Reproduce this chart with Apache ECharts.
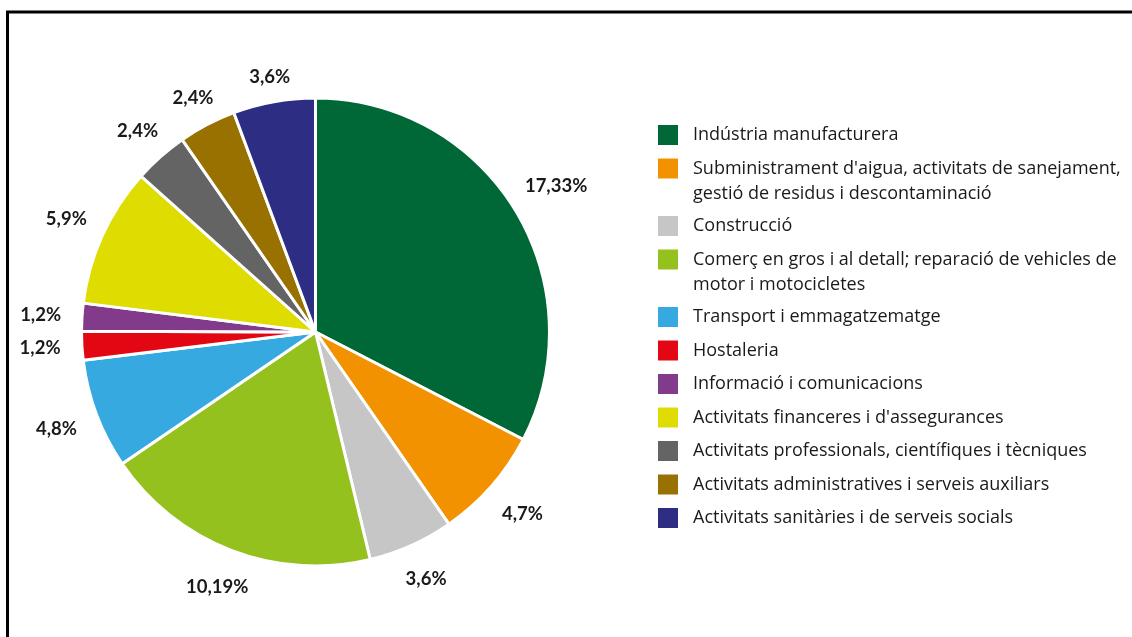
<!DOCTYPE html>
<html>
<head>
<meta charset="utf-8">
<script src="https://cdn.jsdelivr.net/npm/echarts@6/dist/echarts.min.js"></script>
<style>
html,body{margin:0;padding:0;background:#fff;}
#chart{width:1132px;height:637px;}
</style>
</head>
<body>
<div id="chart"></div>
<script>
var sectors = [
  'Indústria manufacturera',
  "Subministrament d'aigua, activitats de sanejament,\ngestió de residus i descontaminació",
  'Construcció',
  'Comerç en gros i al detall; reparació de vehicles de\nmotor i motocicletes',
  'Transport i emmagatzematge',
  'Hostaleria',
  'Informació i comunicacions',
  "Activitats financeres i d'assegurances",
  'Activitats professionals, científiques i tècniques',
  'Activitats administratives i serveis auxiliars',
  'Activitats sanitàries i de serveis socials'
];
var sliceValues = [20.0, 4.75, 3.62, 11.8, 4.66, 1.21, 1.18, 5.91, 2.30, 2.44, 3.48];
var sliceLabels = ['17,33%', '4,7%', '3,6%', '10,19%', '4,8%', '1,2%', '1,2%', '5,9%', '2,4%', '2,4%', '3,6%'];
var sliceColors = ['#006837', '#F39200', '#C6C6C6', '#95C11F', '#36A9E1', '#E30613', '#823A8A', '#DEDC00', '#646464', '#987100', '#2D2E83'];

var LEGEND_FONT = 'Open Sans';
var LABEL_FONT = 'Lato';
var chart = echarts.init(document.getElementById('chart'), null, {renderer: 'canvas'});

var data = sectors.map(function (n, i) {
  return { name: n, value: sliceValues[i], itemStyle: { color: sliceColors[i] } };
});

// one legend block per item so the icon lines up with the first text line
var legends = [];
var extraLines = 0;
sectors.forEach(function (n, i) {
  var lines = n.split('\n').length;
  var iconCenter = 135 + 33.5 * i + 24 * extraLines;
  var offset = lines > 1 ? 12.5 + 25 * (lines - 1) : 12.5;
  legends.push({
    data: [n],
    left: 658,
    top: iconCenter - offset,
    padding: 0,
    orient: 'vertical',
    icon: 'rect',
    itemWidth: 20,
    itemHeight: 20,
    itemStyle: { borderWidth: 0 },
    selectedMode: false,
    formatter: function (name) {
      var k = name.split('\n').length - 1;
      var pre = '';
      for (var j = 0; j < k; j++) { pre += ' \n'; }
      return pre + name;
    },
    textStyle: {
      fontFamily: LEGEND_FONT,
      fontSize: 18,
      lineHeight: 25,
      color: '#1a1a1a',
      padding: [0, 0, 0, 10]
    }
  });
  extraLines += lines - 1;
});

var option = {
  backgroundColor: '#ffffff',
  animation: false,
  legend: legends,
  graphic: [{
    type: 'rect',
    shape: { x: 7.5, y: 12, width: 1200, height: 700 },
    style: { fill: 'none', stroke: '#000', lineWidth: 3 },
    silent: true
  }],
  series: [{
    type: 'pie',
    center: [315.5, 332],
    radius: 234,
    startAngle: 90,
    clockwise: true,
    avoidLabelOverlap: false,
    data: data,
    itemStyle: { borderColor: '#ffffff', borderWidth: 3 },
    label: {
      show: true,
      position: 'outside',
      formatter: function (p) { return sliceLabels[p.dataIndex]; },
      fontFamily: LABEL_FONT,
      fontWeight: 'bold',
      fontSize: 18.5,
      color: '#1a1a1a'
    },
    labelLine: { show: true, length: 10, length2: 0, lineStyle: { width: 0, opacity: 0 } },
    labelLayout: function (p) {
      var pts = p.labelLinePoints;
      if (!pts) { return {}; }
      var x1 = pts[0][0], y1 = pts[0][1];
      var ux = pts[1][0] - x1, uy = pts[1][1] - y1;
      var len = Math.sqrt(ux * ux + uy * uy) || 1;
      ux /= len; uy /= len;
      var w = p.labelRect.width, h = p.labelRect.height;
      var d = 21 + w / 2 * Math.abs(ux) + (uy > 0 ? 0.4 * h * uy : 0);
      return { x: x1 + ux * d, y: y1 + uy * d, align: 'center', verticalAlign: 'middle' };
    },
    emphasis: { disabled: true }
  }]
};
chart.setOption(option);
</script>
</body>
</html>
